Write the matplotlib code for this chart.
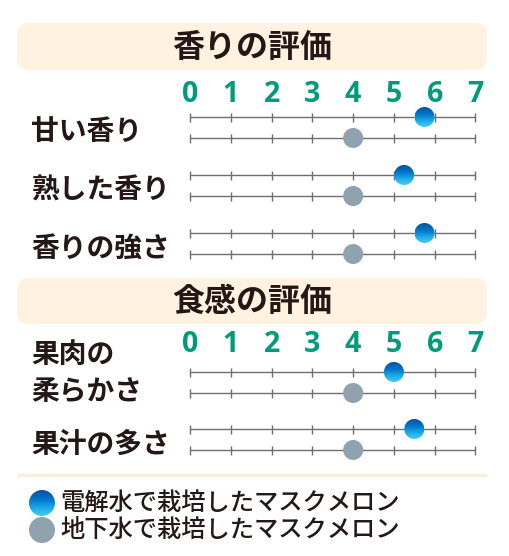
"""
Sensory evaluation chart - melon grown with electrolyzed water vs ground water
"""
import numpy as np
import matplotlib.pyplot as plt
from matplotlib.patches import FancyBboxPatch, Ellipse, Circle
from matplotlib.colors import LinearSegmentedColormap

plt.rcParams['font.family'] = ['Noto Sans CJK JP', 'DejaVu Sans']

# ---- data ----
section_titles = ['香りの評価', '食感の評価']
aroma_items = ['甘い香り', '熟した香り', '香りの強さ']
aroma_electrolyzed = [5.75, 5.25, 5.75]
aroma_groundwater = [4.0, 4.0, 4.0]
texture_items = ['果肉の\n柔らかさ', '果汁の多さ']
texture_electrolyzed = [5.0, 5.5]
texture_groundwater = [4.0, 4.0]
scale_ticks = [0, 1, 2, 3, 4, 5, 6, 7]
legend_labels = ['電解水で栽培したマスクメロン', '地下水で栽培したマスクメロン']

# ---- style ----
W, H = 510, 556
X0_PX, X7_PX = 190, 475.5
UNIT = (X7_PX - X0_PX) / 7
TEXT = '#231815'
TEAL = '#009B7D'
LINE = '#6E6E6E'
CREAM = '#FFF2E0'
GRAY = '#8FA2AE'
blue_cmap = LinearSegmentedColormap.from_list(
    'blue', ['#0052A3', '#0072C6', '#1AA6E6', '#45CCF2'])
R = 10  # marker radius in px

fig = plt.figure(figsize=(W / 100, H / 100), dpi=100)
bg = fig.add_axes([0, 0, 1, 1])
bg.set_xlim(0, W)
bg.set_ylim(H, 0)
bg.axis('off')

ax = fig.add_axes([0, 0, 1, 1])
ax.set_xlim(-X0_PX / UNIT, (W - X0_PX) / UNIT)
ax.set_ylim(H, 0)
ax.axis('off')
ax.patch.set_alpha(0)

grad = np.linspace(0, 1, 64).reshape(-1, 1)


def blue_dot(axis, x, y, rx, ry):
    """Circle with a top-to-bottom blue gradient."""
    clip = Ellipse((x, y), 2 * rx, 2 * ry, transform=axis.transData,
                   facecolor='none', edgecolor='none')
    axis.add_patch(clip)
    im = axis.imshow(grad, cmap=blue_cmap, aspect='auto',
                     extent=[x - rx, x + rx, y + ry, y - ry],
                     interpolation='bilinear', zorder=5)
    im.set_clip_path(clip)


def header(y_top, y_bot, title):
    box = FancyBboxPatch((17, y_top), 470, y_bot - y_top,
                         boxstyle='round,pad=0,rounding_size=12',
                         facecolor=CREAM, edgecolor='none')
    bg.add_patch(box)
    bg.text(252, (y_top + y_bot) / 2 + 1, title, ha='center', va='center',
            fontsize=23, fontweight='bold', color=TEXT)


def section(items, elec, ground, y_num, y_first, spacing, label_offsets):
    for t in scale_ticks:
        ax.text(t, y_num, str(t), ha='center', va='center', fontsize=20.5,
                fontweight='bold', color=TEAL, family=['Open Sans', 'DejaVu Sans'])
    for i, name in enumerate(items):
        yb = y_first + i * spacing
        yg = yb + 21
        for yy in (yb, yg):
            ax.plot([scale_ticks[0], scale_ticks[-1]], [yy, yy], color=LINE, lw=1.0,
                    solid_capstyle='butt', zorder=2)
            ax.vlines(scale_ticks, yy - 4.5, yy + 4.5, color=LINE, lw=1.0, zorder=2)
        blue_dot(ax, elec[i], yb, R / UNIT, R)
        ax.add_patch(Ellipse((ground[i], yg), 2 * R / UNIT, 2 * R,
                             facecolor=GRAY, edgecolor='none', zorder=5))
        bg.text(31, (yb + yg) / 2 + label_offsets[i], name, ha='left', va='center',
                fontsize=20, fontweight='bold', color=TEXT, linespacing=1.45)


header(23, 70, section_titles[0])
section(aroma_items, aroma_electrolyzed, aroma_groundwater, 94, 117, 58, [5, 5, 5])

header(278, 324, section_titles[1])
section(texture_items, texture_electrolyzed, texture_groundwater, 344, 372, 57, [-9, 5])

# separator
bg.plot([17, 487], [475, 475], color='#F7EEDC', lw=2.5, solid_capstyle='butt')

# legend
for k, label in enumerate(legend_labels):
    yy = 503 + k * 27
    if k == 0:
        blue_dot(bg, 42, yy, 13, 13)
    else:
        bg.add_patch(Circle((42, yy), 13, facecolor=GRAY, edgecolor='none'))
    bg.text(60, yy, label, ha='left', va='center', fontsize=17.5,
            fontweight='medium', color=TEXT)

fig.savefig('out.png', dpi=100, facecolor='white')
